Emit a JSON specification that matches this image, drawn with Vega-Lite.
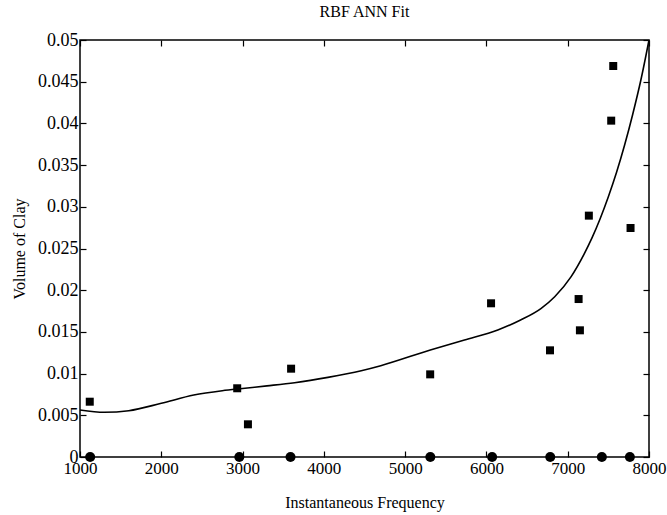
{
  "$schema": "https://vega.github.io/schema/vega-lite/v6.json",
  "autosize": {"type": "none"},
  "padding": {"left": 80, "top": 40, "right": 18, "bottom": 58},
  "width": 569,
  "height": 417,
  "background": "white",
  "title": {"text": "RBF ANN Fit", "font": "Liberation Serif", "fontSize": 16, "fontWeight": "normal", "color": "black", "offset": 11},
  "datasets": {
    "curve": [
      {"f": 1000, "v": 0.00564}, {"f": 1300, "v": 0.00536}, {"f": 1600, "v": 0.00555},
      {"f": 2000, "v": 0.00644}, {"f": 2400, "v": 0.00743}, {"f": 2750, "v": 0.00795},
      {"f": 3000, "v": 0.00822}, {"f": 3300, "v": 0.00853}, {"f": 3640, "v": 0.00891},
      {"f": 4050, "v": 0.00955}, {"f": 4460, "v": 0.01035}, {"f": 4700, "v": 0.01095},
      {"f": 5310, "v": 0.01283}, {"f": 5730, "v": 0.01403}, {"f": 6140, "v": 0.01523},
      {"f": 6420, "v": 0.01643}, {"f": 6670, "v": 0.0178}, {"f": 6840, "v": 0.01922},
      {"f": 7040, "v": 0.0216}, {"f": 7200, "v": 0.0243}, {"f": 7300, "v": 0.0263},
      {"f": 7400, "v": 0.0286}, {"f": 7500, "v": 0.0312}, {"f": 7600, "v": 0.0341},
      {"f": 7700, "v": 0.0374}, {"f": 7800, "v": 0.0411}, {"f": 7900, "v": 0.0452},
      {"f": 8000, "v": 0.05}
    ],
    "obs": [
      {"f": 1120, "v": 0.00663}, {"f": 2934, "v": 0.00824}, {"f": 3066, "v": 0.00392},
      {"f": 3597, "v": 0.01059}, {"f": 5308, "v": 0.00991}, {"f": 6057, "v": 0.01843},
      {"f": 6782, "v": 0.01279}, {"f": 7134, "v": 0.01894}, {"f": 7150, "v": 0.01519},
      {"f": 7560, "v": 0.04688}, {"f": 7535, "v": 0.04033}, {"f": 7260, "v": 0.02894},
      {"f": 7773, "v": 0.02746}
    ],
    "centers": [
      {"f": 1125, "v": 0}, {"f": 2960, "v": 0}, {"f": 3590, "v": 0}, {"f": 5310, "v": 0},
      {"f": 6070, "v": 0}, {"f": 6785, "v": 0}, {"f": 7420, "v": 0}, {"f": 7765, "v": 0}
    ]
  },
  "layer": [
    {
      "data": {"name": "curve"},
      "mark": {"type": "line", "color": "black", "strokeWidth": 1.6, "interpolate": "monotone", "clip": true},
      "encoding": {
        "x": {"field": "f", "type": "quantitative", "scale": {"domain": [1000, 8000], "nice": false, "zero": false},
          "axis": {"title": "Instantaneous Frequency", "values": [1000, 2000, 3000, 4000, 5000, 6000, 7000, 8000], "format": "d", "orient": "bottom", "grid": false, "domain": false, "tickSize": -6, "tickColor": "black", "labelPadding": 9, "labelFlush": false, "labelFontSize": 17, "titlePadding": 18}},
        "y": {"field": "v", "type": "quantitative", "scale": {"domain": [0, 0.05], "nice": false},
          "axis": {"title": "Volume of Clay", "values": [0, 0.005, 0.01, 0.015, 0.02, 0.025, 0.03, 0.035, 0.04, 0.045, 0.05], "format": "~g", "orient": "left", "grid": false, "domain": false, "tickSize": -6, "tickColor": "black", "labelPadding": 8, "labelFlush": false, "labelFontSize": 18, "titlePadding": 10}}
      }
    },
    {
      "data": {"name": "obs"},
      "mark": {"type": "point", "shape": "square", "filled": true, "color": "black", "size": 64, "opacity": 1},
      "encoding": {
        "x": {"field": "f", "type": "quantitative", "scale": {"domain": [1000, 8000], "nice": false, "zero": false},
          "axis": {"orient": "top", "title": null, "labels": false, "values": [1000, 2000, 3000, 4000, 5000, 6000, 7000, 8000], "grid": false, "domain": false, "tickSize": -6, "tickColor": "black"}},
        "y": {"field": "v", "type": "quantitative", "scale": {"domain": [0, 0.05], "nice": false},
          "axis": {"orient": "right", "title": null, "labels": false, "values": [0, 0.005, 0.01, 0.015, 0.02, 0.025, 0.03, 0.035, 0.04, 0.045, 0.05], "grid": false, "domain": false, "tickSize": -6, "tickColor": "black"}}
      }
    },
    {
      "data": {"name": "centers"},
      "mark": {"type": "point", "shape": "circle", "filled": true, "color": "black", "size": 100, "opacity": 1},
      "encoding": {
        "x": {"field": "f", "type": "quantitative", "scale": {"domain": [1000, 8000], "nice": false, "zero": false}, "axis": null},
        "y": {"field": "v", "type": "quantitative", "scale": {"domain": [0, 0.05], "nice": false}, "axis": null}
      }
    }
  ],
  "resolve": {"axis": {"x": "independent", "y": "independent"}},
  "config": {
    "view": {"stroke": "black", "strokeWidth": 1.5},
    "font": "Liberation Serif",
    "axis": {"labelFont": "Liberation Serif", "labelColor": "black", "titleFont": "Liberation Serif", "titleFontSize": 16, "titleFontWeight": "normal", "titleColor": "black", "tickWidth": 1.2}
  }
}
